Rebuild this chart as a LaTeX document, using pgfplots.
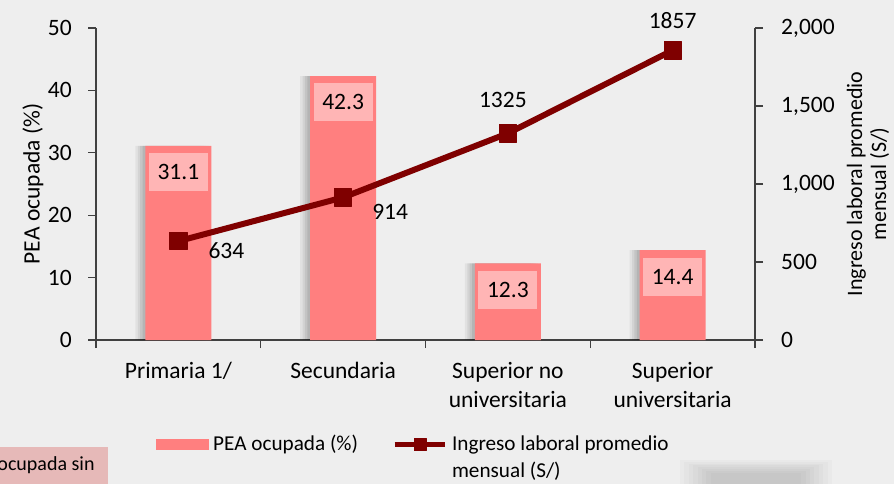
\documentclass[border=0pt]{standalone}
\usepackage{pgfplots}
\pgfplotsset{compat=1.18}
\usepackage{pgfplotstable}
\usepackage{fontspec}
\setmainfont{Carlito}
\definecolor{bg}{HTML}{EEEEEE}
\definecolor{barc}{HTML}{FF7F7F}
\definecolor{labc}{HTML}{FFB5B5}
\definecolor{linec}{HTML}{7F0000}
\definecolor{axc}{HTML}{404040}
\definecolor{notec}{HTML}{E6B9B8}

\pgfplotstableread{
x y
0 31.1
1 42.3
2 12.3
3 14.4
}\peadata
\pgfplotstableread{
x y dx dy
0 634 24 -5
1 914 23.5 -7
2 1325 -2.5 16.5
3 1857 0 15
}\ingdata

\newcommand{\fs}{\fontsize{11.75}{14.5}\selectfont}
\pgfplotsset{
  common/.style={
    scale only axis, width=329.5pt, height=156pt,
    at={(48pt,-170pt)}, anchor=south west,
    xmin=-0.5, xmax=3.5, clip=false,
    axis line style={axc, line width=0.6pt},
    tick style={axc, line width=0.6pt},
    tick align=outside,
    major tick length=4pt,
    /pgf/number format/assume math mode=true,
    ticklabel style={font=\fs, text=black},
    label style={font=\fs, text=black},
  },
  linelegend/.style={legend image code/.code={\draw[mark repeat=2,mark phase=2,##1, mark size=3pt, line width=2.6pt] plot coordinates {(1.3pt,3.2pt) (14pt,3.2pt) (26.7pt,3.2pt)};}},
  barlegend/.style={legend image code/.code={\fill[barc] (0pt,0.7pt) rectangle (26pt,5.7pt);}},
}

\begin{document}
\fs
\begin{tikzpicture}
\path[use as bounding box] (0,0) rectangle (447pt,-242pt);
\fill[bg] (0,0) rectangle (447pt,-242pt);
\fill[notec] (0,-223.5pt) rectangle (54pt,-242pt);
\node[anchor=base east, font=\fontsize{10}{12}\selectfont, inner sep=0pt] at (47.5pt,-235pt) {ocupada sin};
\foreach \i in {0,...,7} {
  \fill[black, opacity=0.018] ({340pt+\i*2.2pt},{-230pt-\i*0.9pt}) rectangle ({416pt-\i*2.2pt},-242pt);
}

\begin{axis}[common,
  axis y line*=left, axis x line*=bottom,
  ymin=0, ymax=50, ytick={0,10,...,50},
  yticklabel style={xshift=-4pt},
  xtick={-0.5,0.5,1.5,2.5,3.5},
  xticklabels={{},Primaria 1/,Secundaria,{Superior no\\universitaria},{Superior\\universitaria}},
  xticklabel style={xshift=-41.19pt, yshift=-3pt, align=center},
  ylabel={PEA ocupada (\%)},
  ylabel style={at={(axis description cs:-0.0956,0.5)}, anchor=center},
]
\addplot[ybar, bar width=33pt, bar shift=-5pt, fill=black, fill opacity=0.05, draw=none, forget plot] table[x=x,y=y]{\peadata};
\addplot[ybar, bar width=33pt, bar shift=-3.8pt, fill=black, fill opacity=0.06, draw=none, forget plot] table[x=x,y=y]{\peadata};
\addplot[ybar, bar width=33pt, bar shift=-2.6pt, fill=black, fill opacity=0.07, draw=none, forget plot] table[x=x,y=y]{\peadata};
\addplot[ybar, bar width=33pt, bar shift=-1.4pt, fill=black, fill opacity=0.08, draw=none, forget plot] table[x=x,y=y]{\peadata};
\addplot[ybar, bar width=33pt, bar shift=0pt, fill=barc, draw=none, forget plot] table[x=x,y=y]{\peadata};
\addplot[draw=none, mark=none, forget plot,
  nodes near coords={\pgfmathprintnumber[fixed,fixed zerofill,precision=1]{\pgfplotspointmeta}},
  every node near coord/.append style={anchor=north, yshift=-3.5pt, fill=labc,
    minimum width=29.5pt, minimum height=19pt, inner sep=0pt, text=black,
    font=\fs}]
  table[x=x,y=y]{\peadata};
\end{axis}

\begin{axis}[common,
  axis y line*=right, axis x line=none,
  ymin=0, ymax=2000, ytick={0,500,...,2000},
  yticklabel style={xshift=5pt},
  /pgf/number format/1000 sep={,},
  xtick=\empty,
  ylabel={Ingreso laboral promedio\\mensual (S/)},
  ylabel style={align=center, font=\fontsize{11}{12}\selectfont, at={(axis description cs:1.1715,0.5)}, anchor=center},
  legend style={at={(axis description cs:0.082,-0.268)}, anchor=north west,
    draw=none, fill=none, font=\fontsize{10.6}{13.5}\selectfont,
    cells={anchor=base west, inner xsep=2.5pt},
    /tikz/every even column/.append style={column sep=15pt}},
  legend columns=2,
]
\addlegendimage{barlegend}
\addlegendentry{PEA ocupada (\%)}
\addplot[linec, line width=3pt, line join=round,
  mark=square*, mark size=4.3pt, mark options={solid, line width=0.4pt, fill=linec},
  visualization depends on={\thisrow{dx}\as\dx},
  visualization depends on={\thisrow{dy}\as\dy},
  nodes near coords={\pgfmathprintnumber[1000 sep={}]{\pgfplotspointmeta}},
  every node near coord/.append style={anchor=center, xshift=\dx pt, yshift=\dy pt,
    text=black, font=\fs},
  linelegend,
] table[x=x,y=y]{\ingdata};
\addlegendentry{\begin{tabular}[t]{@{}l@{}}Ingreso laboral promedio\\mensual (S/)\end{tabular}}
\end{axis}
\end{tikzpicture}
\end{document}
